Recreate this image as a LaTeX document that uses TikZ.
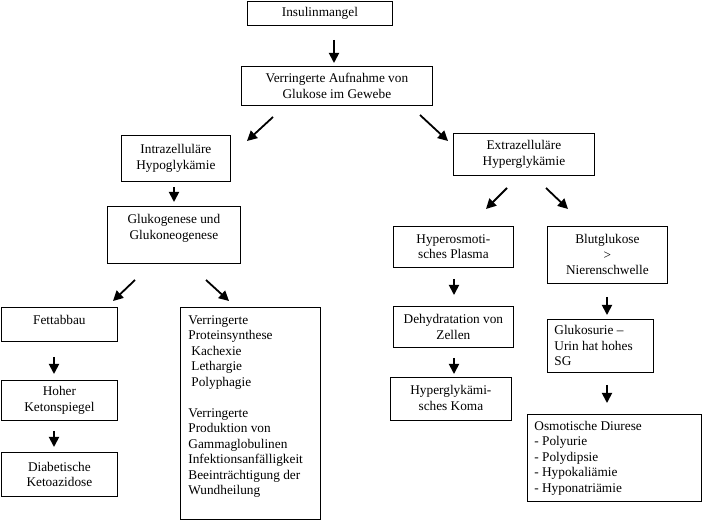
\documentclass[tikz,border=0pt]{standalone}
\usepackage{fontspec}
\setmainfont{Liberation Serif}
\usetikzlibrary{arrows.meta}
\newcommand\flowbox[7]{%
  \node[boxstyle] (#1) at (#2,-#3) {\parbox[c][#5pt][#6]{#4pt}{\fontsize{13.3}{15.5}\selectfont #7}};}
\begin{document}
\begin{tikzpicture}[x=1pt,y=1pt,
  boxstyle/.style={draw, line width=0.8pt, inner sep=0pt, anchor=north west},
  arr/.style={line width=1.8pt, -{Triangle[length=10pt,width=10pt]}}]
\useasboundingbox (0,0) rectangle (702,-521);
% boxes
\flowbox{insulin}{247}{1}{145}{24}{c}{\centering Insulinmangel\par}
\flowbox{aufnahme}{241}{66}{191}{39}{c}{\centering Verringerte Aufnahme von\\ Glukose im Gewebe\par}
\flowbox{intra}{121}{135}{109}{46}{c}{\centering Intrazelluläre\\ Hypoglykämie\par}
\flowbox{extra}{453}{133}{141}{42}{c}{\centering Extrazelluläre\\ Hyperglykämie\par}
\flowbox{gluko}{107}{206}{133}{57}{t}{\vspace*{8pt}\centering Glukogenese und\\ Glukoneogenese\par}
\flowbox{fett}{1}{307}{116}{34}{t}{\vspace*{8pt}\centering Fettabbau\par}
\flowbox{protein}{180}{307}{140}{212}{t}{\vspace*{8pt}\leftskip=8pt\relax Verringerte\\ Proteinsynthese\\ \hspace*{3pt}Kachexie\\ \hspace*{3pt}Lethargie\\ \hspace*{3pt}Polyphagie\\[15.5pt] Verringerte\\ Produktion von\\ Gammaglobulinen\\ Infektionsanfälligkeit\\ Beeinträchtigung der\\ Wundheilung\par}
\flowbox{keton}{1}{380}{116}{40}{c}{\centering Hoher\\ Ketonspiegel\par}
\flowbox{azidose}{1}{452}{116}{44}{c}{\centering Diabetische\\ Ketoazidose\par}
\flowbox{plasma}{393}{226}{120}{41}{c}{\centering Hyperosmoti-\\ sches Plasma\par}
\flowbox{blut}{547}{226}{120}{57}{c}{\centering Blutglukose\\ >\\ Nierenschwelle\par}
\flowbox{dehyd}{393}{306}{120}{41}{c}{\centering Dehydratation von\\ Zellen\par}
\flowbox{koma}{390}{377}{121}{43}{t}{\vspace*{8pt}\centering Hyperglykämi-\\ sches Koma\par}
\flowbox{urie}{547}{319}{106}{53}{c}{\leftskip=7pt\relax Glukosurie –\\ Urin hat hohes\\ SG\par}
\flowbox{diurese}{527}{414}{174}{87}{c}{\leftskip=7pt\relax Osmotische Diurese\\ - Polyurie\\ - Polydipsie\\ - Hypokaliämie\\ - Hyponatriämie\par}
% arrow end points
\coordinate (a1s) at (334,-40);  \coordinate (a1e) at (334,-63);
\coordinate (a2s) at (273,-117); \coordinate (a2e) at (247,-141);
\coordinate (a3s) at (420,-115); \coordinate (a3e) at (448,-141);
\coordinate (a4s) at (174,-187); \coordinate (a4e) at (174,-202);
\coordinate (a5s) at (135,-280); \coordinate (a5e) at (113,-301);
\coordinate (a6s) at (206,-280); \coordinate (a6e) at (229,-301);
\coordinate (a7s) at (507,-188); \coordinate (a7e) at (486,-209);
\coordinate (a8s) at (546,-188); \coordinate (a8e) at (568,-209);
\coordinate (a9s) at (54,-357);  \coordinate (a9e) at (54,-374);
\coordinate (a10s) at (54,-431); \coordinate (a10e) at (54,-447);
\coordinate (a11s) at (454,-279); \coordinate (a11e) at (454,-295);
\coordinate (a12s) at (454,-358); \coordinate (a12e) at (454,-374);
\coordinate (a13s) at (607,-297); \coordinate (a13e) at (607,-315);
\coordinate (a14s) at (607,-385); \coordinate (a14e) at (607,-403);
\foreach \i in {1,...,14} {\draw[arr] (a\i s) -- (a\i e);}
\end{tikzpicture}
\end{document}
